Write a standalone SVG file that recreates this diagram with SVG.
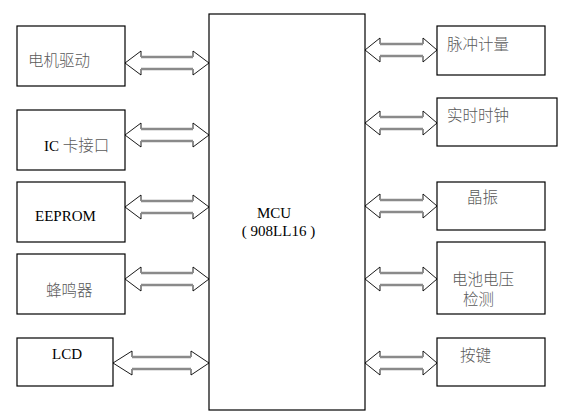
<svg xmlns="http://www.w3.org/2000/svg" width="577" height="412" viewBox="0 0 577 412">
<style>
.box{fill:#fff;stroke:#000;stroke-width:1.2}
.cn{font-family:"Noto Sans CJK SC","Noto Sans",sans-serif;font-size:15.5px;font-weight:300;fill:#5a5a5a}
.en{font-family:"Liberation Serif","Times New Roman",serif;font-size:15px;fill:#000}
.head{fill:#fff;stroke:#000;stroke-width:0.9;stroke-linejoin:miter}
.shaft{stroke:#8a8a8a;stroke-width:2.5;fill:none}
</style>
<rect width="577" height="412" fill="#fff"/>
<g id="connectors">
  <g>
    <polygon class="head" points="125,63 141,51 141,57 193,57 193,51 209,63 193,75 193,69 141,69 141,75"/>
    <line class="shaft" x1="141" y1="57" x2="193" y2="57"/><line class="shaft" x1="141" y1="69" x2="193" y2="69"/>
  </g>
  <g>
    <polygon class="head" points="125,135 141,123 141,129 193,129 193,123 209,135 193,147 193,141 141,141 141,147"/>
    <line class="shaft" x1="141" y1="129" x2="193" y2="129"/><line class="shaft" x1="141" y1="141" x2="193" y2="141"/>
  </g>
  <g>
    <polygon class="head" points="125,207 141,195 141,201 193,201 193,195 209,207 193,219 193,213 141,213 141,219"/>
    <line class="shaft" x1="141" y1="201" x2="193" y2="201"/><line class="shaft" x1="141" y1="213" x2="193" y2="213"/>
  </g>
  <g>
    <polygon class="head" points="125,279 141,267 141,273 193,273 193,267 209,279 193,291 193,285 141,285 141,291"/>
    <line class="shaft" x1="141" y1="273" x2="193" y2="273"/><line class="shaft" x1="141" y1="285" x2="193" y2="285"/>
  </g>
  <g>
    <polygon class="head" points="113,363 132,351 132,357 191,357 191,351 209,363 191,375 191,369 132,369 132,375"/>
    <line class="shaft" x1="132" y1="357" x2="191" y2="357"/><line class="shaft" x1="132" y1="369" x2="191" y2="369"/>
  </g>
  <g>
    <polygon class="head" points="365,50 380,38 380,44 423,44 423,38 437,50 423,62 423,56 380,56 380,62"/>
    <line class="shaft" x1="380" y1="44" x2="423" y2="44"/><line class="shaft" x1="380" y1="56" x2="423" y2="56"/>
  </g>
  <g>
    <polygon class="head" points="365,123 380,111 380,117 423,117 423,111 437,123 423,135 423,129 380,129 380,135"/>
    <line class="shaft" x1="380" y1="117" x2="423" y2="117"/><line class="shaft" x1="380" y1="129" x2="423" y2="129"/>
  </g>
  <g>
    <polygon class="head" points="365,206 380,194 380,200 423,200 423,194 437,206 423,218 423,212 380,212 380,218"/>
    <line class="shaft" x1="380" y1="200" x2="423" y2="200"/><line class="shaft" x1="380" y1="212" x2="423" y2="212"/>
  </g>
  <g>
    <polygon class="head" points="365,279 380,267 380,273 423,273 423,267 437,279 423,291 423,285 380,285 380,291"/>
    <line class="shaft" x1="380" y1="273" x2="423" y2="273"/><line class="shaft" x1="380" y1="285" x2="423" y2="285"/>
  </g>
  <g>
    <polygon class="head" points="365,363 380,351 380,357 423,357 423,351 437,363 423,375 423,369 380,369 380,375"/>
    <line class="shaft" x1="380" y1="357" x2="423" y2="357"/><line class="shaft" x1="380" y1="369" x2="423" y2="369"/>
  </g>
</g>
<g id="mcu">
  <rect class="box" x="209" y="14" width="156" height="396"/>
  <text class="en" x="274" y="218" text-anchor="middle">MCU</text>
  <text class="en" x="278.5" y="236" text-anchor="middle" xml:space="preserve">( 908LL16 )</text>
</g>
<g id="motor">
  <rect class="box" x="17" y="26" width="108" height="60"/>
  <text class="cn" x="28" y="66">电机驱动</text>
</g>
<g id="iccard">
  <rect class="box" x="17" y="110" width="108" height="60"/>
  <text x="44" y="151"><tspan class="en">IC </tspan><tspan class="cn">卡接口</tspan></text>
</g>
<g id="eeprom">
  <rect class="box" x="17" y="182" width="108" height="60"/>
  <text class="en" x="35" y="221">EEPROM</text>
</g>
<g id="buzzer">
  <rect class="box" x="17" y="254" width="108" height="60"/>
  <text class="cn" x="46" y="296">蜂鸣器</text>
</g>
<g id="lcd">
  <rect class="box" x="17" y="338" width="96" height="48"/>
  <text class="en" x="52" y="359">LCD</text>
</g>
<g id="pulse">
  <rect class="box" x="437" y="26" width="108" height="49"/>
  <text class="cn" x="447" y="50">脉冲计量</text>
</g>
<g id="rtc">
  <rect class="box" x="437" y="98" width="120" height="48"/>
  <text class="cn" x="447" y="121">实时时钟</text>
</g>
<g id="crystal">
  <rect class="box" x="437" y="182" width="108" height="48"/>
  <text class="cn" x="467" y="203">晶振</text>
</g>
<g id="battery">
  <rect class="box" x="437" y="242" width="108" height="72"/>
  <text class="cn" x="452" y="285" font-size="15">电池电压</text>
  <text class="cn" x="463" y="305" font-size="15">检测</text>
</g>
<g id="keys">
  <rect class="box" x="437" y="338" width="108" height="48"/>
  <text class="cn" x="460" y="361">按键</text>
</g>
</svg>
